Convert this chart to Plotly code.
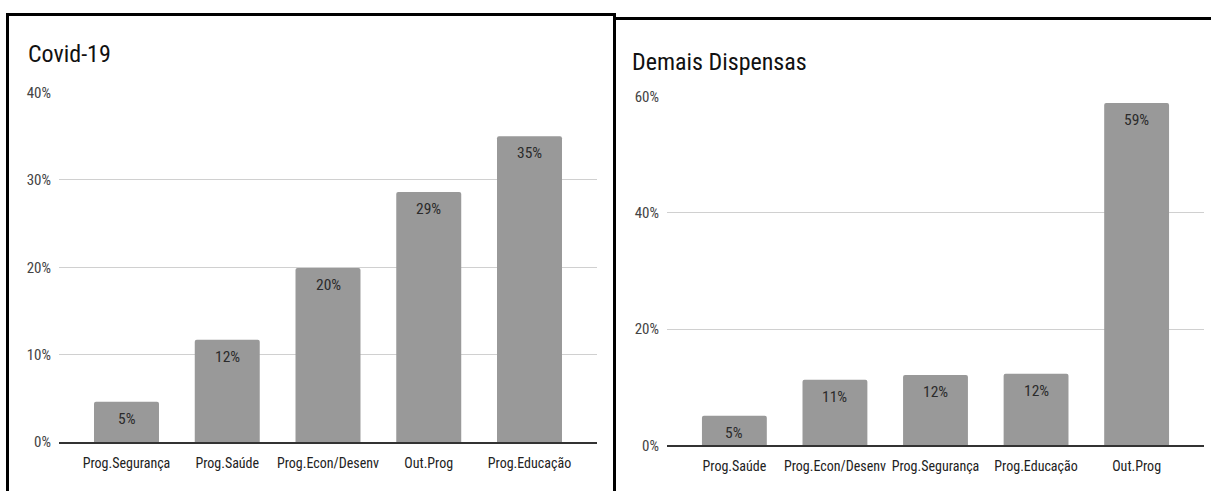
import plotly.graph_objects as go

W, H = 1211, 491

# ---- data ----
covid_categories = ["Prog.Segurança", "Prog.Saúde", "Prog.Econ/Desenv", "Out.Prog", "Prog.Educação"]
covid_values = [4.6, 11.7, 19.9, 28.6, 35.0]

demais_categories = ["Prog.Saúde", "Prog.Econ/Desenv", "Prog.Segurança", "Prog.Educação", "Out.Prog"]
demais_values = [5.1, 11.3, 12.1, 12.3, 58.9]

covid_ticks = [0, 10, 20, 30, 40]
demais_ticks = [0, 20, 40, 60]

# ---- styling ----
BAR = "#999999"
NARROW = "Liberation Sans Narrow, Arial Narrow, Roboto Condensed, Roboto, sans-serif"


def px(x):
    return x / W


def py(y):
    return 1 - y / H


fig = go.Figure()
fig.add_trace(go.Bar(x=covid_categories, y=covid_values, marker=dict(color=BAR, cornerradius=2),
                     width=0.645, xaxis="x", yaxis="y", hoverinfo="skip"))
fig.add_trace(go.Bar(x=demais_categories, y=demais_values, marker=dict(color=BAR, cornerradius=2),
                     width=0.645, xaxis="x2", yaxis="y2", hoverinfo="skip"))

annotations = []
for cats, vals, xr, yr in [(covid_categories, covid_values, "x", "y"),
                           (demais_categories, demais_values, "x2", "y2")]:
    for c, v in zip(cats, vals):
        annotations.append(dict(x=c, y=v, xref=xr, yref=yr, text=f"{v:.0f}%", showarrow=False,
                                yanchor="top", yshift=-6,
                                font=dict(family=NARROW, size=15.5, color="#2b2b2b")))

annotations.append(dict(x=px(26), y=py(54), xref="paper", yref="paper", text="Covid-19",
                        showarrow=False, xanchor="left", yanchor="middle",
                        font=dict(family=NARROW, size=24, color="#111111")))
annotations.append(dict(x=px(630), y=py(62), xref="paper", yref="paper", text="Demais Dispensas",
                        showarrow=False, xanchor="left", yanchor="middle",
                        font=dict(family=NARROW, size=24, color="#111111")))

common_x = dict(type="category", range=[-0.67, 4.67], showgrid=False, showline=True,
                linecolor="#333333", linewidth=1.5, ticks="", ticklabelstandoff=7, automargin=False,
                tickfont=dict(family=NARROW, size=14, color="#222222"), fixedrange=True)
common_y = dict(showgrid=True, gridcolor="#d0d0d0", gridwidth=1, zeroline=False, showline=False,
                ticks="", ticklabelstandoff=7, automargin=False,
                tickfont=dict(family=NARROW, size=15, color="#444444"), fixedrange=True)

fig.update_layout(
    template="none",
    width=W, height=H, margin=dict(l=0, r=0, t=0, b=0, pad=0, autoexpand=False),
    paper_bgcolor="white", plot_bgcolor="white", showlegend=False, bargap=0.35,
    xaxis=dict(domain=[px(59), px(597)], anchor="y", **common_x),
    yaxis=dict(domain=[py(442), py(92.5)], range=[0, 40], tickvals=covid_ticks,
               ticktext=[f"{t}%" for t in covid_ticks], anchor="x", **common_y),
    xaxis2=dict(domain=[px(667), px(1204)], anchor="y2", **common_x),
    yaxis2=dict(domain=[py(445.3), py(96.7)], range=[0, 60], tickvals=demais_ticks,
                ticktext=[f"{t}%" for t in demais_ticks], anchor="x2", **common_y),
    annotations=annotations,
    shapes=[
        # left panel border (left, top, right)
        dict(type="line", xref="paper", yref="paper", x0=px(7.5), y0=py(13), x1=px(7.5), y1=py(495),
             line=dict(color="black", width=3), layer="above"),
        dict(type="line", xref="paper", yref="paper", x0=px(6), y0=py(14.5), x1=px(616), y1=py(14.5),
             line=dict(color="black", width=3), layer="above"),
        dict(type="line", xref="paper", yref="paper", x0=px(614.5), y0=py(13), x1=px(614.5), y1=py(495),
             line=dict(color="black", width=3), layer="above"),
        # right panel border (top)
        dict(type="line", xref="paper", yref="paper", x0=px(614.5), y0=py(18.5), x1=px(1215), y1=py(18.5),
             line=dict(color="black", width=3), layer="above"),
    ],
)

fig.write_html("out.html")
